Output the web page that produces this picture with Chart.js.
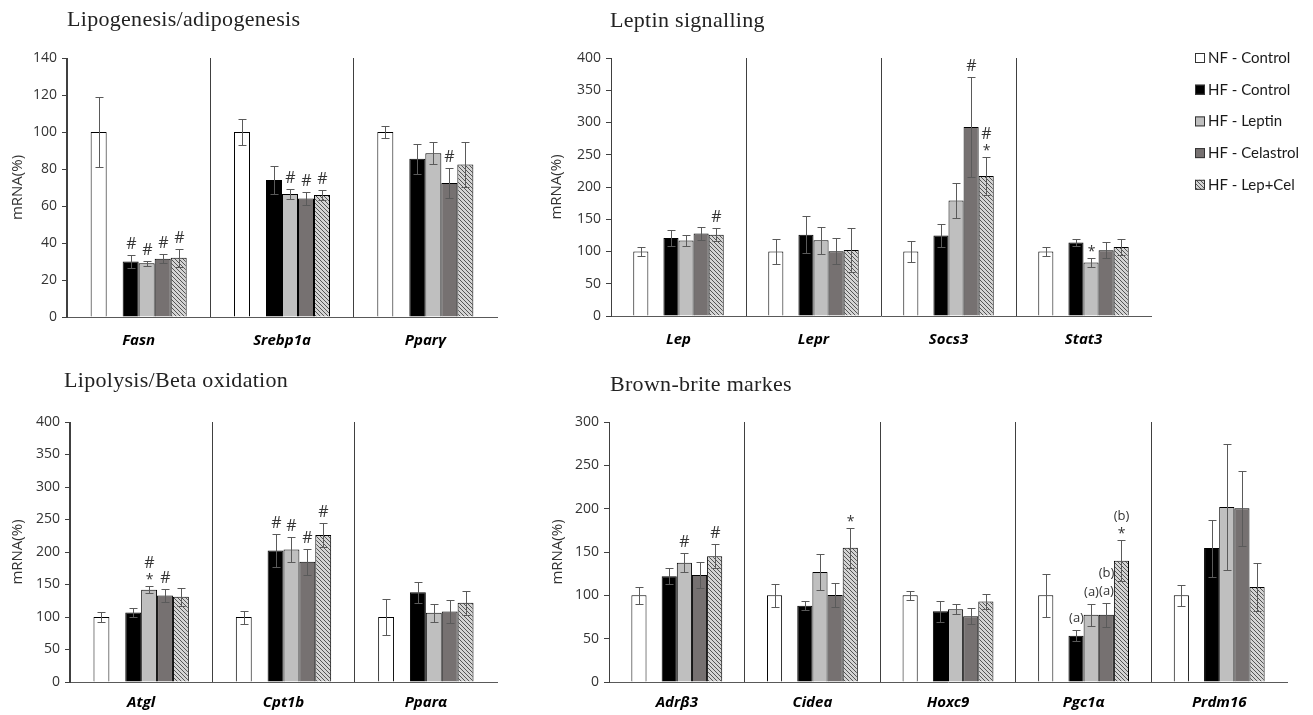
<!DOCTYPE html>
<html>
<head>
<meta charset="utf-8">
<title>mRNA expression</title>
<script src="https://cdn.jsdelivr.net/npm/chart.js@4.4.1/dist/chart.umd.min.js"></script>
<style>
  body { margin: 0; background: #fff; }
  #fig { position: relative; width: 1313px; height: 715px; overflow: hidden; }
  #fig canvas { position: absolute; }
</style>
</head>
<body>
<div id="fig">
  <canvas id="lipo" width="510" height="360" style="left:0;top:0"></canvas>
  <canvas id="leptin" width="773" height="360" style="left:540px;top:0"></canvas>
  <canvas id="lipolysis" width="510" height="355" style="left:0;top:360px"></canvas>
  <canvas id="brown" width="773" height="355" style="left:540px;top:360px"></canvas>
</div>
<script>
// groups, same order in every panel
const seriesNames = ['NF - Control', 'HF - Control', 'HF - Leptin', 'HF - Celastrol', 'HF - Lep+Cel'];

// Lipogenesis/adipogenesis
const lipoGenes = ['Fasn', 'Srebp1a', 'Pparγ'];
const lipoMeans = [
  [100, 100, 100],
  [30, 74, 85.5],
  [29, 66.5, 88.5],
  [31.5, 64, 72.5],
  [32, 66, 82.5]
];
const lipoErrors = [
  [19, 7, 3],
  [3.5, 7.5, 8],
  [1.5, 2.5, 6],
  [2.5, 3.5, 8],
  [5, 2.5, 12]
];
const lipoMarks = [
  ['', '', ''],
  ['#', '', ''],
  ['#', '#', ''],
  ['#', '#', '#'],
  ['#', '#', '']
];

// Leptin signalling
const leptinGenes = ['Lep', 'Lepr', 'Socs3', 'Stat3'];
const leptinMeans = [
  [100, 100, 100, 100],
  [121, 126, 125, 114],
  [117, 117.5, 179, 83],
  [128, 100.5, 293, 102],
  [126, 102.5, 217, 107]
];
const leptinErrors = [
  [7, 20, 16, 7],
  [12, 29, 18, 5],
  [8, 21, 27, 7],
  [10, 20, 77, 12],
  [10, 34, 29, 12]
];
const leptinMarks = [
  ['', '', '', ''],
  ['', '', '', ''],
  ['', '', '', '*'],
  ['', '', '#', ''],
  ['#', '', '# *', '']
];

// Lipolysis/Beta oxidation
const lipolysisGenes = ['Atgl', 'Cpt1b', 'Pparα'];
const lipolysisMeans = [
  [100, 100, 100],
  [107, 202.5, 138],
  [142, 204, 106.5],
  [133, 185, 108.5],
  [131, 226, 122]
];
const lipolysisErrors = [
  [7, 10, 27.5],
  [7, 25, 16],
  [5, 19, 14],
  [10, 20, 17],
  [14, 18, 18.5]
];
const lipolysisMarks = [
  ['', '', ''],
  ['', '#', ''],
  ['# *', '#', ''],
  ['#', '#', ''],
  ['', '#', '']
];

// Brown-brite markers
const brownGenes = ['Adrβ3', 'Cidea', 'Hoxc9', 'Pgc1α', 'Prdm16'];
const brownMeans = [
  [100, 100, 100, 100, 100],
  [122, 88, 81.5, 53.5, 154.5],
  [137.5, 127, 84, 77.5, 202],
  [123.5, 100.5, 76, 77.5, 200.5],
  [145, 155, 93, 140, 109.5]
];
const brownErrors = [
  [9.5, 13, 5.5, 24.5, 12],
  [9, 5, 12.5, 6, 33],
  [11, 21, 6, 13, 72.5],
  [15, 14, 9, 14, 43.5],
  [14, 23, 9, 24, 28]
];
const brownMarks = [
  ['', '', '', '', ''],
  ['', '', '', '(a)', ''],
  ['#', '', '', '(a)', ''],
  ['', '', '', '(b) (a)', ''],
  ['#', '*', '', '(b) *', '']
];

function hatchPattern() {
  const c = document.createElement('canvas');
  c.width = 4; c.height = 4;
  const g = c.getContext('2d');
  g.fillStyle = '#d4d4d4';
  g.fillRect(0, 0, 4, 4);
  g.strokeStyle = '#555';
  g.lineWidth = 1;
  g.beginPath();
  g.moveTo(0, 0); g.lineTo(4, 4);
  g.moveTo(-1, 3); g.lineTo(1, 5);
  g.moveTo(3, -1); g.lineTo(5, 1);
  g.stroke();
  return g.createPattern(c, 'repeat');
}

const fills = ['#ffffff', '#000000', '#bfbfbf', '#767171', hatchPattern()];

function makeDatasets(genes, means, errors, marks) {
  const ds = [];
  seriesNames.forEach((name, k) => {
    ds.push({
      label: name,
      data: means[k],
      errors: errors[k],
      marks: marks[k],
      backgroundColor: fills[k],
      borderColor: '#000',
      borderWidth: 1
    });
    // empty slot between NF and HF groups
    if (k === 0) ds.push({ label: '', data: genes.map(() => null), spacer: true });
  });
  return ds;
}

// font, box height, baseline nudge
const markFont = {
  '#': ['16px "Open Sans"', 16, 0],
  '*': ['14px "Open Sans"', 12, 3],
  '(a)': ['13px "Open Sans"', 18, 0],
  '(b)': ['13px "Open Sans"', 18, 0]
};

const errorBars = {
  id: 'errorBars',
  afterDatasetsDraw(chart) {
    const ctx = chart.ctx;
    const y = chart.scales.y;
    const labels = [];
    ctx.save();
    chart.data.datasets.forEach((ds, i) => {
      if (!ds.errors) return;
      const meta = chart.getDatasetMeta(i);
      meta.data.forEach((bar, j) => {
        const v = ds.data[j], e = ds.errors[j];
        const top = Math.round(y.getPixelForValue(v + e)) + 0.5;
        const bot = Math.round(y.getPixelForValue(v - e)) + 0.5;
        const x = Math.round(bar.x) + 0.5;
        ctx.strokeStyle = '#5a5a5a';
        ctx.lineWidth = 1;
        ctx.beginPath();
        ctx.moveTo(x, top); ctx.lineTo(x, bot);
        ctx.moveTo(x - 4, top); ctx.lineTo(x + 4, top);
        ctx.moveTo(x - 4, bot); ctx.lineTo(x + 4, bot);
        ctx.stroke();
        const m = ds.marks[j];
        if (!m) return;
        let cursor = top - 3;
        m.split(' ').reverse().forEach(t => {
          const [font, h, dy] = markFont[t];
          ctx.font = font;
          const w = ctx.measureText(t).width;
          labels.push({ t, font, x, y: cursor - h / 2 + dy, w, top: cursor - h, bot: cursor });
          cursor -= h;
        });
      });
    });
    // right to left, push a label left when it would run into one already placed
    labels.sort((a, b) => b.x - a.x);
    const placed = [];
    labels.forEach(l => {
      placed.forEach(p => {
        const vert = l.top < p.bot - 2 && l.bot > p.top + 2;
        if (vert && l.x + l.w / 2 > p.x - p.w / 2) l.x = p.x - p.w / 2 - l.w / 2;
      });
      placed.push(l);
      ctx.font = l.font;
      ctx.fillStyle = '#333';
      ctx.textAlign = 'center';
      ctx.textBaseline = 'middle';
      ctx.fillText(l.t, l.x, l.y);
    });
    ctx.restore();
  }
};

const panelTitle = {
  id: 'panelTitle',
  afterDraw(chart, args, opts) {
    const ctx = chart.ctx;
    ctx.save();
    ctx.font = '22px "Liberation Serif"';
    ctx.letterSpacing = '0.3px';
    ctx.fillStyle = '#222';
    ctx.textAlign = 'left';
    ctx.textBaseline = 'alphabetic';
    ctx.fillText(opts.text, opts.x, opts.y);
    ctx.restore();
  }
};

const seriesKey = {
  id: 'seriesKey',
  afterDraw(chart, args, opts) {
    const ctx = chart.ctx;
    ctx.save();
    ctx.font = '15px Lato';
    ctx.textBaseline = 'middle';
    ctx.textAlign = 'left';
    chart.data.datasets.filter(d => !d.spacer).forEach((d, k) => {
      const cy = opts.y + k * opts.gap;
      ctx.fillStyle = d.backgroundColor;
      ctx.fillRect(opts.x, cy - 5, 10, 10);
      ctx.strokeStyle = '#333';
      ctx.lineWidth = 1;
      ctx.strokeRect(opts.x + 0.5, cy - 4.5, 9, 9);
      ctx.fillStyle = '#1a1a1a';
      ctx.fillText(d.label, opts.x + 13, cy);
    });
    ctx.restore();
  }
};

function drawPanel(id, p) {
  const plugins = [errorBars, panelTitle];
  if (p.key) plugins.push(seriesKey);
  return new Chart(document.getElementById(id), {
    type: 'bar',
    data: { labels: p.genes, datasets: makeDatasets(p.genes, p.means, p.errors, p.marks) },
    options: {
      responsive: false,
      animation: false,
      layout: { padding: { top: p.padTop, right: p.padRight, left: 0, bottom: 0 } },
      datasets: { bar: { categoryPercentage: 0.67, barPercentage: 1 } },
      plugins: {
        legend: { display: false },
        tooltip: { enabled: false },
        panelTitle: { text: p.title, x: p.titleX, y: p.titleY },
        seriesKey: p.key || {}
      },
      scales: {
        x: {
          grid: {
            offset: true,
            drawTicks: false,
            color: c => c.type === 'tick' ? '#404040' : 'rgba(0,0,0,0)'
          },
          border: { color: '#595959' },
          ticks: {
            padding: p.labelPad,
            color: '#000',
            font: { family: 'Open Sans', size: 15, weight: 'bold', style: 'italic' }
          },
          afterFit: s => { s.height = p.xHeight; }
        },
        y: {
          min: 0,
          max: p.max,
          ticks: { stepSize: p.step, padding: 5, color: '#333', font: { family: 'Open Sans', size: 14 } },
          grid: { drawOnChartArea: false, tickLength: 5, color: '#404040' },
          border: { color: '#404040' },
          title: {
            display: true,
            text: 'mRNA(%)',
            color: '#333',
            font: { family: 'Open Sans', size: 15 },
            padding: { top: p.yTitlePad, bottom: 0 }
          },
          afterFit: s => { s.width = p.yWidth; }
        }
      }
    },
    plugins: plugins
  });
}

drawPanel('lipo', {
  title: 'Lipogenesis/adipogenesis', titleX: 67, titleY: 26,
  genes: lipoGenes, means: lipoMeans, errors: lipoErrors, marks: lipoMarks,
  max: 140, step: 20,
  yWidth: 67, padTop: 58, padRight: 13, xHeight: 43, labelPad: 15, yTitlePad: 9,
});

drawPanel('leptin', {
  title: 'Leptin signalling', titleX: 70, titleY: 27,
  genes: leptinGenes, means: leptinMeans, errors: leptinErrors, marks: leptinMarks,
  max: 400, step: 50,
  yWidth: 71, padTop: 58, padRight: 162, xHeight: 44, labelPad: 15, yTitlePad: 8,
  key: { x: 655, y: 58, gap: 31.7 }
});

drawPanel('lipolysis', {
  title: 'Lipolysis/Beta oxidation', titleX: 64, titleY: 27,
  genes: lipolysisGenes, means: lipolysisMeans, errors: lipolysisErrors, marks: lipolysisMarks,
  max: 400, step: 50,
  yWidth: 70, padTop: 62, padRight: 13, xHeight: 33, labelPad: 12, yTitlePad: 9
});

drawPanel('brown', {
  title: 'Brown-brite markes', titleX: 70, titleY: 31,
  genes: brownGenes, means: brownMeans, errors: brownErrors, marks: brownMarks,
  max: 300, step: 50,
  yWidth: 69, padTop: 62, padRight: 26, xHeight: 33, labelPad: 12, yTitlePad: 9
});
</script>
</body>
</html>
